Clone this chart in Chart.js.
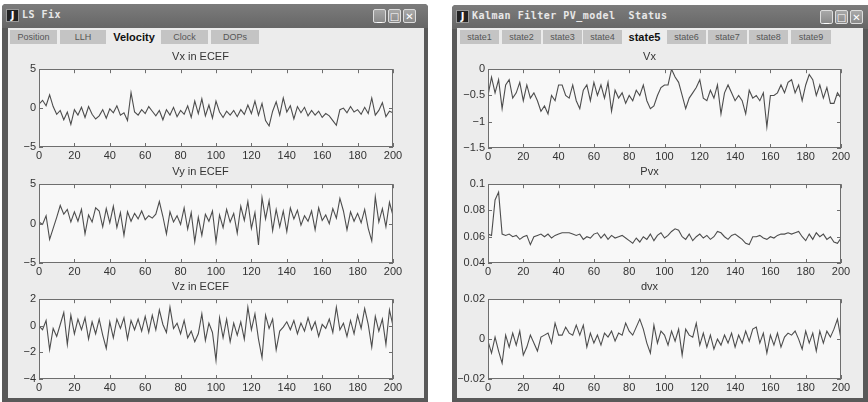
<!DOCTYPE html>
<html>
<head>
<meta charset="utf-8">
<script src="https://cdn.jsdelivr.net/npm/chart.js@4.4.0/dist/chart.umd.min.js"></script>
<style>
    body { margin: 0; width: 868px; height: 402px; background: #fff; position: relative; overflow: hidden; font-family: "Liberation Sans", Arial, sans-serif; }
    .win { position: absolute; background: #595959; border-radius: 4px 4px 0 0; }
    .bar { position: absolute; left: 0; right: 0; top: 0; height: 24px; background: linear-gradient(#7c7c7c, #666); border-radius: 4px 4px 0 0; }
    .icon { position: absolute; left: 4px; top: 5px; width: 13px; height: 13px; background: #222; border: 1px solid #999; box-sizing: border-box; color: #fff; font: bold 10px "DejaVu Sans"; line-height: 11px; text-align: center; }
    .wtitle { position: absolute; left: 20px; top: 5px; color: #e8e8e8; font: bold 10px "DejaVu Sans Mono"; letter-spacing: 0.5px; white-space: pre; }
    .btn { position: absolute; top: 5px; width: 13px; height: 14px; border: 1px solid #ddd; border-radius: 2px; background: linear-gradient(#a8a8a8, #8a8a8a); color: #fff; font: bold 10px "DejaVu Sans"; line-height: 14px; text-align: center; box-sizing: border-box; }
    .panel { position: absolute; background: #ececec; }
    .tab { position: absolute; top: 2px; height: 14px; background: #c4c4c4; color: #555; font-size: 9px; line-height: 14px; text-align: center; }
    .tab.sel { top: 1px; height: 16px; background: #ececec; color: #111; font-weight: bold; font-size: 11px; line-height: 16px; }
    canvas { position: absolute; }
</style>
</head>
<body>
<div class="win" style="left:2px;top:4px;width:426px;height:398px;">
    <div class="bar">
        <div class="icon">J</div>
        <div class="wtitle">LS Fix</div>
        <div class="btn" style="left:371px;">_</div>
        <div class="btn" style="left:386px;">□</div>
        <div class="btn" style="left:401px;">✕</div>
    </div>
    <div class="panel" style="left:6px;top:24px;width:416px;height:370px;">
        <div class="tab" style="left:2px;width:47px;">Position</div>
        <div class="tab" style="left:52px;width:46px;">LLH</div>
        <div class="tab sel" style="left:101px;width:50px;">Velocity</div>
        <div class="tab" style="left:153px;width:47px;">Clock</div>
        <div class="tab" style="left:203px;width:48px;">DOPs</div>
    </div>
</div>
<div class="win" style="left:452px;top:5px;width:420px;height:397px;">
    <div class="bar">
        <div class="icon">J</div>
        <div class="wtitle">Kalman Filter PV_model  Status</div>
        <div class="btn" style="left:368px;">_</div>
        <div class="btn" style="left:383px;">□</div>
        <div class="btn" style="left:398px;">✕</div>
    </div>
    <div class="panel" style="left:5px;top:23px;width:406px;height:370px;">
        <div class="tab" style="left:3px;width:39px;">state1</div>
        <div class="tab" style="left:45px;width:39px;">state2</div>
        <div class="tab" style="left:86px;width:39px;">state3</div>
        <div class="tab" style="left:126px;width:39px;">state4</div>
        <div class="tab sel" style="left:167px;width:41px;">state5</div>
        <div class="tab" style="left:210px;width:39px;">state6</div>
        <div class="tab" style="left:251px;width:39px;">state7</div>
        <div class="tab" style="left:292px;width:39px;">state8</div>
        <div class="tab" style="left:334px;width:40px;">state9</div>
    </div>
</div>

<canvas id="c1" width="400" height="117" style="left:8px;top:50px;"></canvas>
<canvas id="c2" width="400" height="118" style="left:8px;top:165px;"></canvas>
<canvas id="c3" width="400" height="119" style="left:8px;top:280px;"></canvas>
<canvas id="c4" width="398" height="118" style="left:458px;top:50px;"></canvas>
<canvas id="c5" width="398" height="118" style="left:458px;top:165px;"></canvas>
<canvas id="c6" width="398" height="119" style="left:458px;top:280px;"></canvas>

<script>
// epochs 0..200, every 2nd sample
const epochs = [];
for (let i = 0; i <= 200; i += 2) epochs.push(i);

const xTicks = [0, 20, 40, 60, 80, 100, 120, 140, 160, 180, 200];

// LS Fix - Velocity
const vxEcef = [0.5, 1.0, 0.3, 1.7, 0.2, -0.8, -0.3, -1.5, -0.5, -2.1,
    -0.2, -0.9, 0.1, -1.2, 0.2, -0.8, -1.4, -1.0, -0.2, -1.3,
    -0.1, -0.6, 0.3, -0.9, -0.6, -1.6, 2.0, -0.5, -0.9, -0.2,
    -0.7, 0.2, -0.4, -1.0, -0.3, -1.5, -0.2, -0.9, 0.1, -1.1,
    -0.3, -0.8, 0.3, -1.2, 0.9, -0.7, 1.2, -1.0, 0.4, -1.3,
    0.9, -0.5, -1.2, -0.4, -0.9, -0.3, -1.1, -0.2, -0.8, 0.4,
    -0.7, 0.9, -0.9, 0.6, -1.6, -2.3, -0.4, 0.8, -0.9, 1.3,
    -0.5, 0.3, -1.4, 0.2, -0.6, 0.1, -1.0, -0.3, -0.9, -0.4,
    -1.2, -0.7, -1.0, -1.6, -2.2, -0.2, 0.0, -0.6, 0.2, -0.5,
    -0.2, -0.8, 0.1, -0.7, 1.3, -0.9, -0.3, 0.7, -1.1, -0.4, -0.6];
const vyEcef = [0.2, -0.1, 1.0, -2.0, -0.6, 0.8, 2.3, 1.2, 1.8, 0.2,
    1.5, 0.3, 1.8, -1.3, 1.1, 0.2, 2.0, 1.6, -0.4, 1.9,
    0.1, 2.2, -0.5, 1.4, -1.5, 1.5, 0.3, 1.3, 0.6, 1.6,
    0.5, 1.0, 0.7, 1.2, 2.8, 0.9, -1.3, 1.5, 0.2, 1.0,
    -0.1, 2.0, -0.7, 1.4, -2.3, 0.8, -1.5, 1.2, 0.3, 1.6,
    -2.3, 1.1, -0.5, 1.8, 0.2, 1.3, -1.2, 2.2, 0.4, 2.8,
    -0.6, 1.4, -2.7, 3.3, 0.6, 2.9, -0.9, 1.8, -0.4, 1.6,
    -1.0, 2.0, 0.6, 1.7, -0.2, 1.0, 0.3, 1.6, -0.8, 2.0,
    0.4, 1.1, 0.0, 1.9, 0.7, 3.2, 1.6, -0.8, 1.5, 0.3,
    1.3, 0.1, 1.8, -0.6, -2.2, 3.4, 0.2, 1.9, -0.4, 2.7, 1.0];
const vzEcef = [0.0, -0.3, 0.4, -1.8, -0.2, -0.8, 0.1, 1.0, -1.4, 0.8,
    -0.6, 0.5, -0.3, 0.6, -1.0, 0.3, -0.6, 0.5, -0.7, -1.7,
    0.3, -0.9, 0.5, -0.2, 0.6, -1.0, 0.4, -0.3, 0.5, -0.4,
    0.7, -0.5, 0.8, -0.3, 1.2, 0.1, -0.5, 1.4, -0.2, 0.2,
    -0.6, 0.4, -0.9, -0.4, -1.2, -0.6, 0.9, -1.1, 0.2, -0.5,
    -2.6, 0.6, -0.9, 0.5, -1.2, 0.2, -0.7, 0.3, -1.0, 1.4,
    -0.3, 0.9, -1.0, -2.4, 0.8, -0.2, 0.5, -1.8, -0.4, -0.1,
    0.3, -0.3, 0.4, -0.6, 0.2, -0.4, 0.6, -0.3, 0.3, -0.8,
    0.1, -0.2, 0.5, -0.5, 1.4, -0.3, 0.2, -0.8, 0.4, -0.6,
    0.8, -0.2, 1.3, 0.1, -1.6, 0.7, -0.4, 0.5, -1.4, 1.2, 0.0];

// Kalman filter - state5
const vxState = [-0.5, -0.15, -0.45, -0.2, -0.75, -0.3, -0.2, -0.55, -0.45, -0.25,
    -0.6, -0.3, -0.55, -0.45, -0.6, -0.8, -0.7, -0.85, -0.5, -0.6,
    -0.3, -0.3, -0.5, -0.55, -0.3, -0.6, -0.75, -0.4, -0.3, -0.6,
    -0.25, -0.5, -0.3, -0.55, -0.25, -0.8, -0.4, -0.55, -0.45, -0.65,
    -0.5, -0.6, -0.4, -0.5, -0.3, -0.6, -0.75, -0.7, -0.5, -0.35,
    -0.3, -0.3, 0.0, -0.15, -0.25, -0.5, -0.75, -0.55, -0.45, -0.35,
    -0.2, -0.55, -0.6, -0.4, -0.55, -0.3, -0.85, -0.45, -0.3, -0.45,
    -0.6, -0.5, -0.6, -0.85, -0.4, -0.55, -0.5, -0.6, -0.45, -1.1,
    -0.5, -0.5, -0.45, -0.3, -0.45, -0.25, -0.2, -0.45, -0.3, -0.6,
    -0.3, -0.1, -0.2, -0.5, -0.3, -0.55, -0.35, -0.65, -0.65, -0.45, -0.55];
const pvx = [0.062, 0.061, 0.088, 0.094, 0.062, 0.061, 0.062, 0.060, 0.061, 0.058,
    0.060, 0.061, 0.054, 0.060, 0.061, 0.062, 0.060, 0.062, 0.059, 0.061,
    0.062, 0.063, 0.063, 0.063, 0.062, 0.061, 0.062, 0.058, 0.060, 0.059,
    0.062, 0.063, 0.059, 0.062, 0.058, 0.061, 0.059, 0.060, 0.061, 0.059,
    0.057, 0.055, 0.059, 0.056, 0.060, 0.058, 0.062, 0.057, 0.061, 0.063,
    0.059, 0.061, 0.064, 0.066, 0.065, 0.060, 0.058, 0.062, 0.057, 0.060,
    0.062, 0.059, 0.061, 0.058, 0.060, 0.064, 0.063, 0.060, 0.058, 0.061,
    0.062, 0.060, 0.058, 0.055, 0.054, 0.060, 0.060, 0.061, 0.059, 0.058,
    0.060, 0.059, 0.061, 0.062, 0.062, 0.063, 0.062, 0.063, 0.064, 0.060,
    0.057, 0.062, 0.058, 0.063, 0.060, 0.062, 0.058, 0.060, 0.056, 0.055, 0.059];
const dvx = [-0.001, -0.007, 0.001, -0.006, -0.012, 0.002, -0.004, 0.003, -0.003, 0.004,
    -0.008, -0.004, 0.002, -0.002, -0.006, 0.001, 0.002, 0.003, -0.002, 0.008,
    0.002, 0.002, 0.006, 0.003, 0.002, 0.007, 0.002, 0.007, -0.004, 0.003,
    -0.002, 0.002, -0.003, 0.003, 0.001, 0.004, -0.001, 0.003, 0.002, 0.008,
    0.004, 0.002, 0.006, 0.010, 0.005, -0.002, -0.007, 0.007, -0.002, 0.004,
    0.002, -0.003, 0.004, -0.001, 0.005, -0.008, 0.005, 0.002, 0.001, 0.008,
    -0.003, 0.003, -0.004, 0.002, -0.005, 0.000, -0.003, 0.002, -0.002, 0.003,
    -0.004, 0.002, -0.002, 0.004, -0.001, 0.005, 0.006, -0.002, 0.003, -0.007,
    0.002, -0.003, 0.003, -0.004, 0.001, 0.003, 0.002, 0.004, 0.000, -0.005,
    0.004, -0.002, 0.003, -0.006, 0.004, -0.002, 0.004, 0.001, 0.005, 0.010, 0.000];

// y tick values and their labels
const vTicks = [-5, 0, 5];
const vTickLabels = ['\u22125', '0', '5'];
const vzTicks = [-4, -2, 0, 2];
const vzTickLabels = ['\u22124', '\u22122', '0', '2'];
const vxStTicks = [-1.5, -1, -0.5, 0];
const vxStTickLabels = ['\u22121.5', '\u22121', '\u22120.5', '0'];
const pvxTicks = [0.04, 0.06, 0.08, 0.1];
const pvxTickLabels = ['0.04', '0.06', '0.08', '0.1'];
const dvxTicks = [-0.02, 0, 0.02];
const dvxTickLabels = ['\u22120.02', '0', '0.02'];

const FONT = '"Liberation Sans", Arial, sans-serif';

// matlab style box: light fill, border, ticks pointing inward on all four sides
const boxPlugin = {
    id: 'box',
    beforeDraw(chart) {
        const a = chart.chartArea, ctx = chart.ctx;
        ctx.save();
        ctx.fillStyle = '#f8f8f8';
        ctx.fillRect(a.left, a.top, a.right - a.left, a.bottom - a.top);
        ctx.restore();
    },
    afterDraw(chart) {
        const a = chart.chartArea, ctx = chart.ctx;
        const xs = chart.scales.x, ys = chart.scales.y;
        ctx.save();
        ctx.strokeStyle = '#6e6e6e';
        ctx.lineWidth = 1;
        ctx.strokeRect(Math.round(a.left) + 0.5, Math.round(a.top) + 0.5,
            Math.round(a.right - a.left) - 1, Math.round(a.bottom - a.top) - 1);
        ctx.beginPath();
        xs.ticks.forEach(t => {
            const px = Math.round(xs.getPixelForValue(t.value)) + 0.5;
            ctx.moveTo(px, a.bottom); ctx.lineTo(px, a.bottom - 4);
            ctx.moveTo(px, a.top); ctx.lineTo(px, a.top + 4);
        });
        ys.ticks.forEach(t => {
            const py = Math.round(ys.getPixelForValue(t.value)) + 0.5;
            ctx.moveTo(a.left, py); ctx.lineTo(a.left + 4, py);
            ctx.moveTo(a.right, py); ctx.lineTo(a.right - 4, py);
        });
        ctx.stroke();
        ctx.restore();
    }
};

function makePlot(id, title, values, yTicks, yLabels, yWidth) {
    const points = epochs.map((x, i) => ({ x: x, y: values[i] }));
    new Chart(document.getElementById(id), {
        type: 'line',
        data: {
            datasets: [{
                data: points,
                borderColor: '#4d4d4d',
                borderWidth: 1.1,
                pointRadius: 0,
                tension: 0
            }]
        },
        options: {
            responsive: false,
            animation: false,
            events: [],
            layout: { padding: { left: 0, right: 15, top: 0, bottom: 0 } },
            plugins: {
                legend: { display: false },
                tooltip: { enabled: false },
                title: {
                    display: true,
                    text: title,
                    color: '#333',
                    font: { size: 11, family: FONT, weight: 'normal' },
                    padding: { top: 0, bottom: 6 }
                }
            },
            scales: {
                x: {
                    type: 'linear',
                    min: 0,
                    max: 200,
                    afterBuildTicks: s => { s.ticks = xTicks.map(v => ({ value: v })); },
                    afterFit: s => { s.height = 20; },
                    ticks: { color: '#333', font: { size: 11, family: FONT }, padding: 2, maxRotation: 0, autoSkip: false },
                    grid: { display: false, drawTicks: false },
                    border: { display: false }
                },
                y: {
                    min: yTicks[0],
                    max: yTicks[yTicks.length - 1],
                    afterBuildTicks: s => { s.ticks = yTicks.map(v => ({ value: v })); },
                    afterFit: s => { s.width = yWidth; },
                    ticks: {
                        color: '#333',
                        font: { size: 11, family: FONT },
                        padding: 3,
                        callback: (v, i) => yLabels[i]
                    },
                    grid: { display: false, drawTicks: false },
                    border: { display: false }
                }
            }
        },
        plugins: [boxPlugin]
    });
}

makePlot('c1', 'Vx in ECEF', vxEcef, vTicks, vTickLabels, 31);
makePlot('c2', 'Vy in ECEF', vyEcef, vTicks, vTickLabels, 31);
makePlot('c3', 'Vz in ECEF', vzEcef, vzTicks, vzTickLabels, 31);
makePlot('c4', 'Vx', vxState, vxStTicks, vxStTickLabels, 30);
makePlot('c5', 'Pvx', pvx, pvxTicks, pvxTickLabels, 30);
makePlot('c6', 'dvx', dvx, dvxTicks, dvxTickLabels, 30);
</script>
</body>
</html>
